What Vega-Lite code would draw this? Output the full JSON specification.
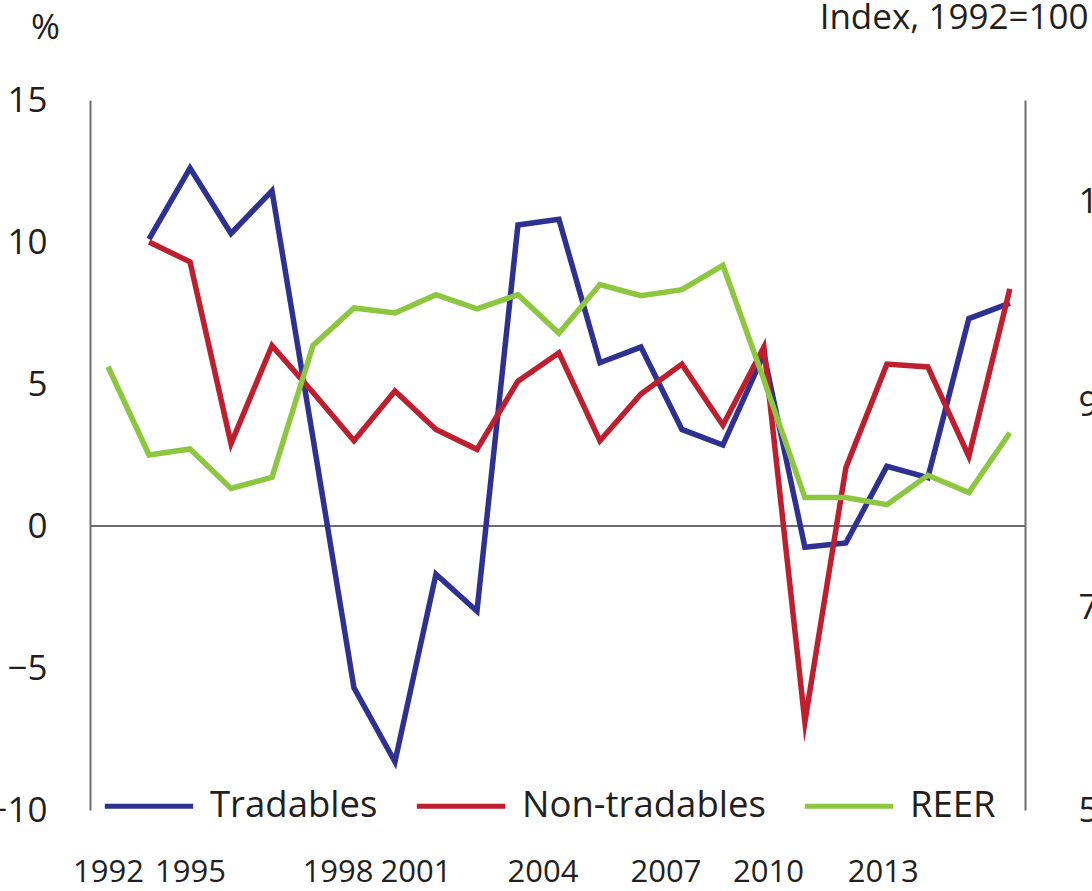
{
  "$schema": "https://vega.github.io/schema/vega-lite/v6.json",
  "width": 935,
  "height": 710,
  "autosize": {"type": "none"},
  "padding": {"left": 90, "top": 100, "right": 67, "bottom": 81},
  "background": "white",
  "config": {
    "view": {"stroke": null},
    "font": "Open Sans",
    "axis": {"labelColor": "#231f20", "titleColor": "#231f20", "domainColor": "#6d6e71", "domainWidth": 2, "ticks": false, "tickSize": 0, "grid": false, "labelFont": "Open Sans", "titleFont": "Open Sans", "titleFontWeight": "normal"},
    "legend": {"labelFont": "Open Sans", "labelColor": "#231f20"}
  },
  "data": {
    "values": [
      {"year": 1993, "series": "Tradables", "value": 10.1},
      {"year": 1994, "series": "Tradables", "value": 12.6},
      {"year": 1995, "series": "Tradables", "value": 10.3},
      {"year": 1996, "series": "Tradables", "value": 11.8},
      {"year": 1997, "series": "Tradables", "value": 3.1},
      {"year": 1998, "series": "Tradables", "value": -5.7},
      {"year": 1999, "series": "Tradables", "value": -8.3},
      {"year": 2000, "series": "Tradables", "value": -1.7},
      {"year": 2001, "series": "Tradables", "value": -3.0},
      {"year": 2002, "series": "Tradables", "value": 10.6},
      {"year": 2003, "series": "Tradables", "value": 10.8},
      {"year": 2004, "series": "Tradables", "value": 5.75},
      {"year": 2005, "series": "Tradables", "value": 6.3},
      {"year": 2006, "series": "Tradables", "value": 3.4},
      {"year": 2007, "series": "Tradables", "value": 2.85},
      {"year": 2008, "series": "Tradables", "value": 6.05},
      {"year": 2009, "series": "Tradables", "value": -0.75},
      {"year": 2010, "series": "Tradables", "value": -0.6},
      {"year": 2011, "series": "Tradables", "value": 2.1},
      {"year": 2012, "series": "Tradables", "value": 1.7},
      {"year": 2013, "series": "Tradables", "value": 7.3},
      {"year": 2014, "series": "Tradables", "value": 7.85},
      {"year": 1993, "series": "Non-tradables", "value": 10.0},
      {"year": 1994, "series": "Non-tradables", "value": 9.3},
      {"year": 1995, "series": "Non-tradables", "value": 2.9},
      {"year": 1996, "series": "Non-tradables", "value": 6.35},
      {"year": 1997, "series": "Non-tradables", "value": 4.7},
      {"year": 1998, "series": "Non-tradables", "value": 3.0},
      {"year": 1999, "series": "Non-tradables", "value": 4.75},
      {"year": 2000, "series": "Non-tradables", "value": 3.4},
      {"year": 2001, "series": "Non-tradables", "value": 2.7},
      {"year": 2002, "series": "Non-tradables", "value": 5.1},
      {"year": 2003, "series": "Non-tradables", "value": 6.1},
      {"year": 2004, "series": "Non-tradables", "value": 3.0},
      {"year": 2005, "series": "Non-tradables", "value": 4.65},
      {"year": 2006, "series": "Non-tradables", "value": 5.7},
      {"year": 2007, "series": "Non-tradables", "value": 3.55},
      {"year": 2008, "series": "Non-tradables", "value": 6.3},
      {"year": 2009, "series": "Non-tradables", "value": -6.9},
      {"year": 2010, "series": "Non-tradables", "value": 2.05},
      {"year": 2011, "series": "Non-tradables", "value": 5.7},
      {"year": 2012, "series": "Non-tradables", "value": 5.6},
      {"year": 2013, "series": "Non-tradables", "value": 2.45},
      {"year": 2014, "series": "Non-tradables", "value": 8.35},
      {"year": 1992, "series": "REER", "value": 93.7},
      {"year": 1993, "series": "REER", "value": 85.0},
      {"year": 1994, "series": "REER", "value": 85.6},
      {"year": 1995, "series": "REER", "value": 81.7},
      {"year": 1996, "series": "REER", "value": 82.8},
      {"year": 1997, "series": "REER", "value": 95.8},
      {"year": 1998, "series": "REER", "value": 99.5},
      {"year": 1999, "series": "REER", "value": 99.0},
      {"year": 2000, "series": "REER", "value": 100.8},
      {"year": 2001, "series": "REER", "value": 99.4},
      {"year": 2002, "series": "REER", "value": 100.8},
      {"year": 2003, "series": "REER", "value": 97.0},
      {"year": 2004, "series": "REER", "value": 101.8},
      {"year": 2005, "series": "REER", "value": 100.7},
      {"year": 2006, "series": "REER", "value": 101.3},
      {"year": 2007, "series": "REER", "value": 103.7},
      {"year": 2008, "series": "REER", "value": 92.4},
      {"year": 2009, "series": "REER", "value": 80.8},
      {"year": 2010, "series": "REER", "value": 80.8},
      {"year": 2011, "series": "REER", "value": 80.1},
      {"year": 2012, "series": "REER", "value": 83.0},
      {"year": 2013, "series": "REER", "value": 81.3},
      {"year": 2014, "series": "REER", "value": 87.2}
    ]
  },
  "encoding": {
    "x": {
      "field": "year",
      "type": "quantitative",
      "scale": {"domain": [1991.56, 2014.37], "nice": false, "zero": false},
      "axis": {
        "title": null,
        "domain": false,
        "values": [1992, 1994, 1997.6, 1999.5, 2002.6, 2005.6, 2008.1, 2010.9],
        "labelExpr": "datum.value < 1993 ? '1992' : datum.value < 1995 ? '1995' : datum.value < 1998 ? '1998' : datum.value < 2000 ? '2001' : datum.value < 2003 ? '2004' : datum.value < 2006 ? '2007' : datum.value < 2009 ? '2010' : '2013'",
        "labelFont": "Open Sans",
        "labelFontSize": 31,
        "labelBaseline": "alphabetic",
        "labelPadding": 71,
        "labelOverlap": false,
        "labelFlush": false
      }
    },
    "color": {
      "field": "series",
      "type": "nominal",
      "scale": {"domain": ["Tradables", "Non-tradables", "REER"], "range": ["#2E3192", "#BE1E2D", "#8DC63F"]},
      "legend": {
        "title": null,
        "orient": "none",
        "legendX": 12,
        "legendY": 659,
        "direction": "horizontal",
        "symbolType": "stroke",
        "symbolSize": 7800,
        "symbolStrokeWidth": 5,
        "labelFontSize": 36.5,
        "labelOffset": 14,
        "columnPadding": 28,
        "labelLimit": 400
      }
    }
  },
  "layer": [
    {
      "layer": [
        {
          "mark": {"type": "rule", "color": "#6d6e71", "strokeWidth": 1.5},
          "encoding": {"y": {"datum": 0, "type": "quantitative", "scale": {"domain": [-10, 15], "nice": false}}, "x": {"value": 0}, "x2": {"value": 935}, "color": {"value": "#6d6e71"}}
        },
        {
          "transform": [{"filter": "datum.series !== 'REER'"}],
          "mark": {"type": "line", "strokeWidth": 5.5, "strokeJoin": "miter", "strokeMiterLimit": 10},
          "encoding": {
            "y": {
              "field": "value",
              "type": "quantitative",
              "scale": {"domain": [-10, 15], "nice": false},
              "axis": {
                "orient": "left",
                "values": [-10, -5, 0, 5, 10, 15],
                "labelFontSize": 35,
                "labelPadding": 43,
                "title": "%",
                "titleAngle": 0,
                "titleFontSize": 35,
                "titleX": -45,
                "titleY": -62,
                "titleAlign": "center",
                "titleBaseline": "alphabetic"
              }
            }
          }
        }
      ]
    },
    {
      "transform": [{"filter": "datum.series === 'REER'"}],
      "mark": {"type": "line", "strokeWidth": 5.5, "strokeJoin": "miter", "strokeMiterLimit": 10},
      "encoding": {
        "y": {
          "field": "value",
          "type": "quantitative",
          "scale": {"domain": [50, 120], "nice": false, "zero": false},
          "axis": {
            "orient": "right",
            "values": [50, 70, 90, 110],
            "labelFontSize": 35,
            "labelPadding": 53,
            "labelAlign": "left",
            "title": "Index, 1992=100",
            "titleAngle": 0,
            "titleFontSize": 35,
            "titleX": 63,
            "titleY": -72,
            "titleAlign": "right",
            "titleBaseline": "alphabetic"
          }
        }
      }
    }
  ],
  "resolve": {"scale": {"y": "independent"}}
}
